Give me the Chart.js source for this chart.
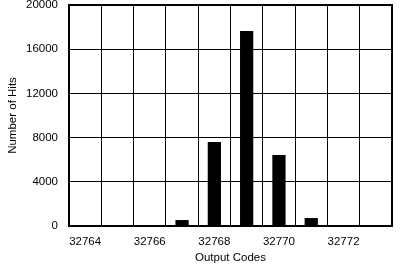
<!DOCTYPE html>
<html>
<head>
<meta charset="utf-8">
<script src="https://cdn.jsdelivr.net/npm/chart.js@4/dist/chart.umd.min.js"></script>
<style>
  html, body { margin: 0; padding: 0; background: #fff; }
  #wrap { width: 407px; height: 267px; }
</style>
</head>
<body>
<div id="wrap"><canvas id="c" width="407" height="267"></canvas></div>
<script>
// output codes (one bin each) and hit counts
const codes = [32764, 32765, 32766, 32767, 32768, 32769, 32770, 32771, 32772, 32773];
const hits = [0, 0, 0, 540, 7600, 17650, 6430, 720, 0, 0];
const yTicks = [0, 4000, 8000, 12000, 16000, 20000];

const FONT = "'Liberation Sans', Arial, Helvetica, sans-serif";

// thick frame round the plot area
const frame = {
    id: "frame",
    afterDraw(chart) {
        const a = chart.chartArea;
        const ctx = chart.ctx;
        ctx.save();
        ctx.strokeStyle = "#000";
        ctx.lineWidth = 2;
        ctx.strokeRect(a.left, a.top, a.right - a.left, a.bottom - a.top);
        ctx.restore();
    }
};

new Chart(document.getElementById("c"), {
    type: "bar",
    data: {
        labels: codes.map(String),
        datasets: [{
            label: "Hits",
            data: hits,
            backgroundColor: "#000",
            borderWidth: 0,
            barPercentage: 0.41,
            categoryPercentage: 1.0
        }]
    },
    options: {
        responsive: false,
        animation: false,
        devicePixelRatio: 1,
        layout: { padding: { top: 5, right: 15, left: 0, bottom: 0 } },
        plugins: { legend: { display: false }, tooltip: { enabled: false } },
        scales: {
            x: {
                offset: true,
                grid: { offset: true, color: "#000", lineWidth: 1, drawTicks: false },
                border: { display: false },
                ticks: {
                    autoSkip: false,
                    maxRotation: 0,
                    padding: 9,
                    color: "#000",
                    font: { family: FONT, size: 11.5 },
                    callback: function (v, i) { return i % 2 === 0 ? codes[i] : ""; }
                },
                title: {
                    display: true,
                    text: "Output Codes",
                    color: "#000",
                    font: { family: FONT, size: 11.5 },
                    padding: { top: 4, bottom: 2 }
                },
                afterFit: function (s) { s.height = 41; s.paddingLeft = 0; s.paddingRight = 0; }
            },
            y: {
                min: 0,
                max: 20000,
                afterBuildTicks: function (s) { s.ticks = yTicks.map(v => ({ value: v })); },
                grid: { color: "#000", lineWidth: 1, drawTicks: false },
                border: { display: false },
                ticks: {
                    padding: 11,
                    color: "#000",
                    font: { family: FONT, size: 11.5 },
                    callback: function (v) { return String(v); }
                },
                title: {
                    display: true,
                    text: "Number of Hits",
                    color: "#000",
                    font: { family: FONT, size: 11.5 },
                    padding: { top: 6, bottom: 0 }
                },
                afterFit: function (s) { s.width = 69; s.paddingTop = 0; s.paddingBottom = 0; }
            }
        }
    },
    plugins: [frame]
});
</script>
</body>
</html>
